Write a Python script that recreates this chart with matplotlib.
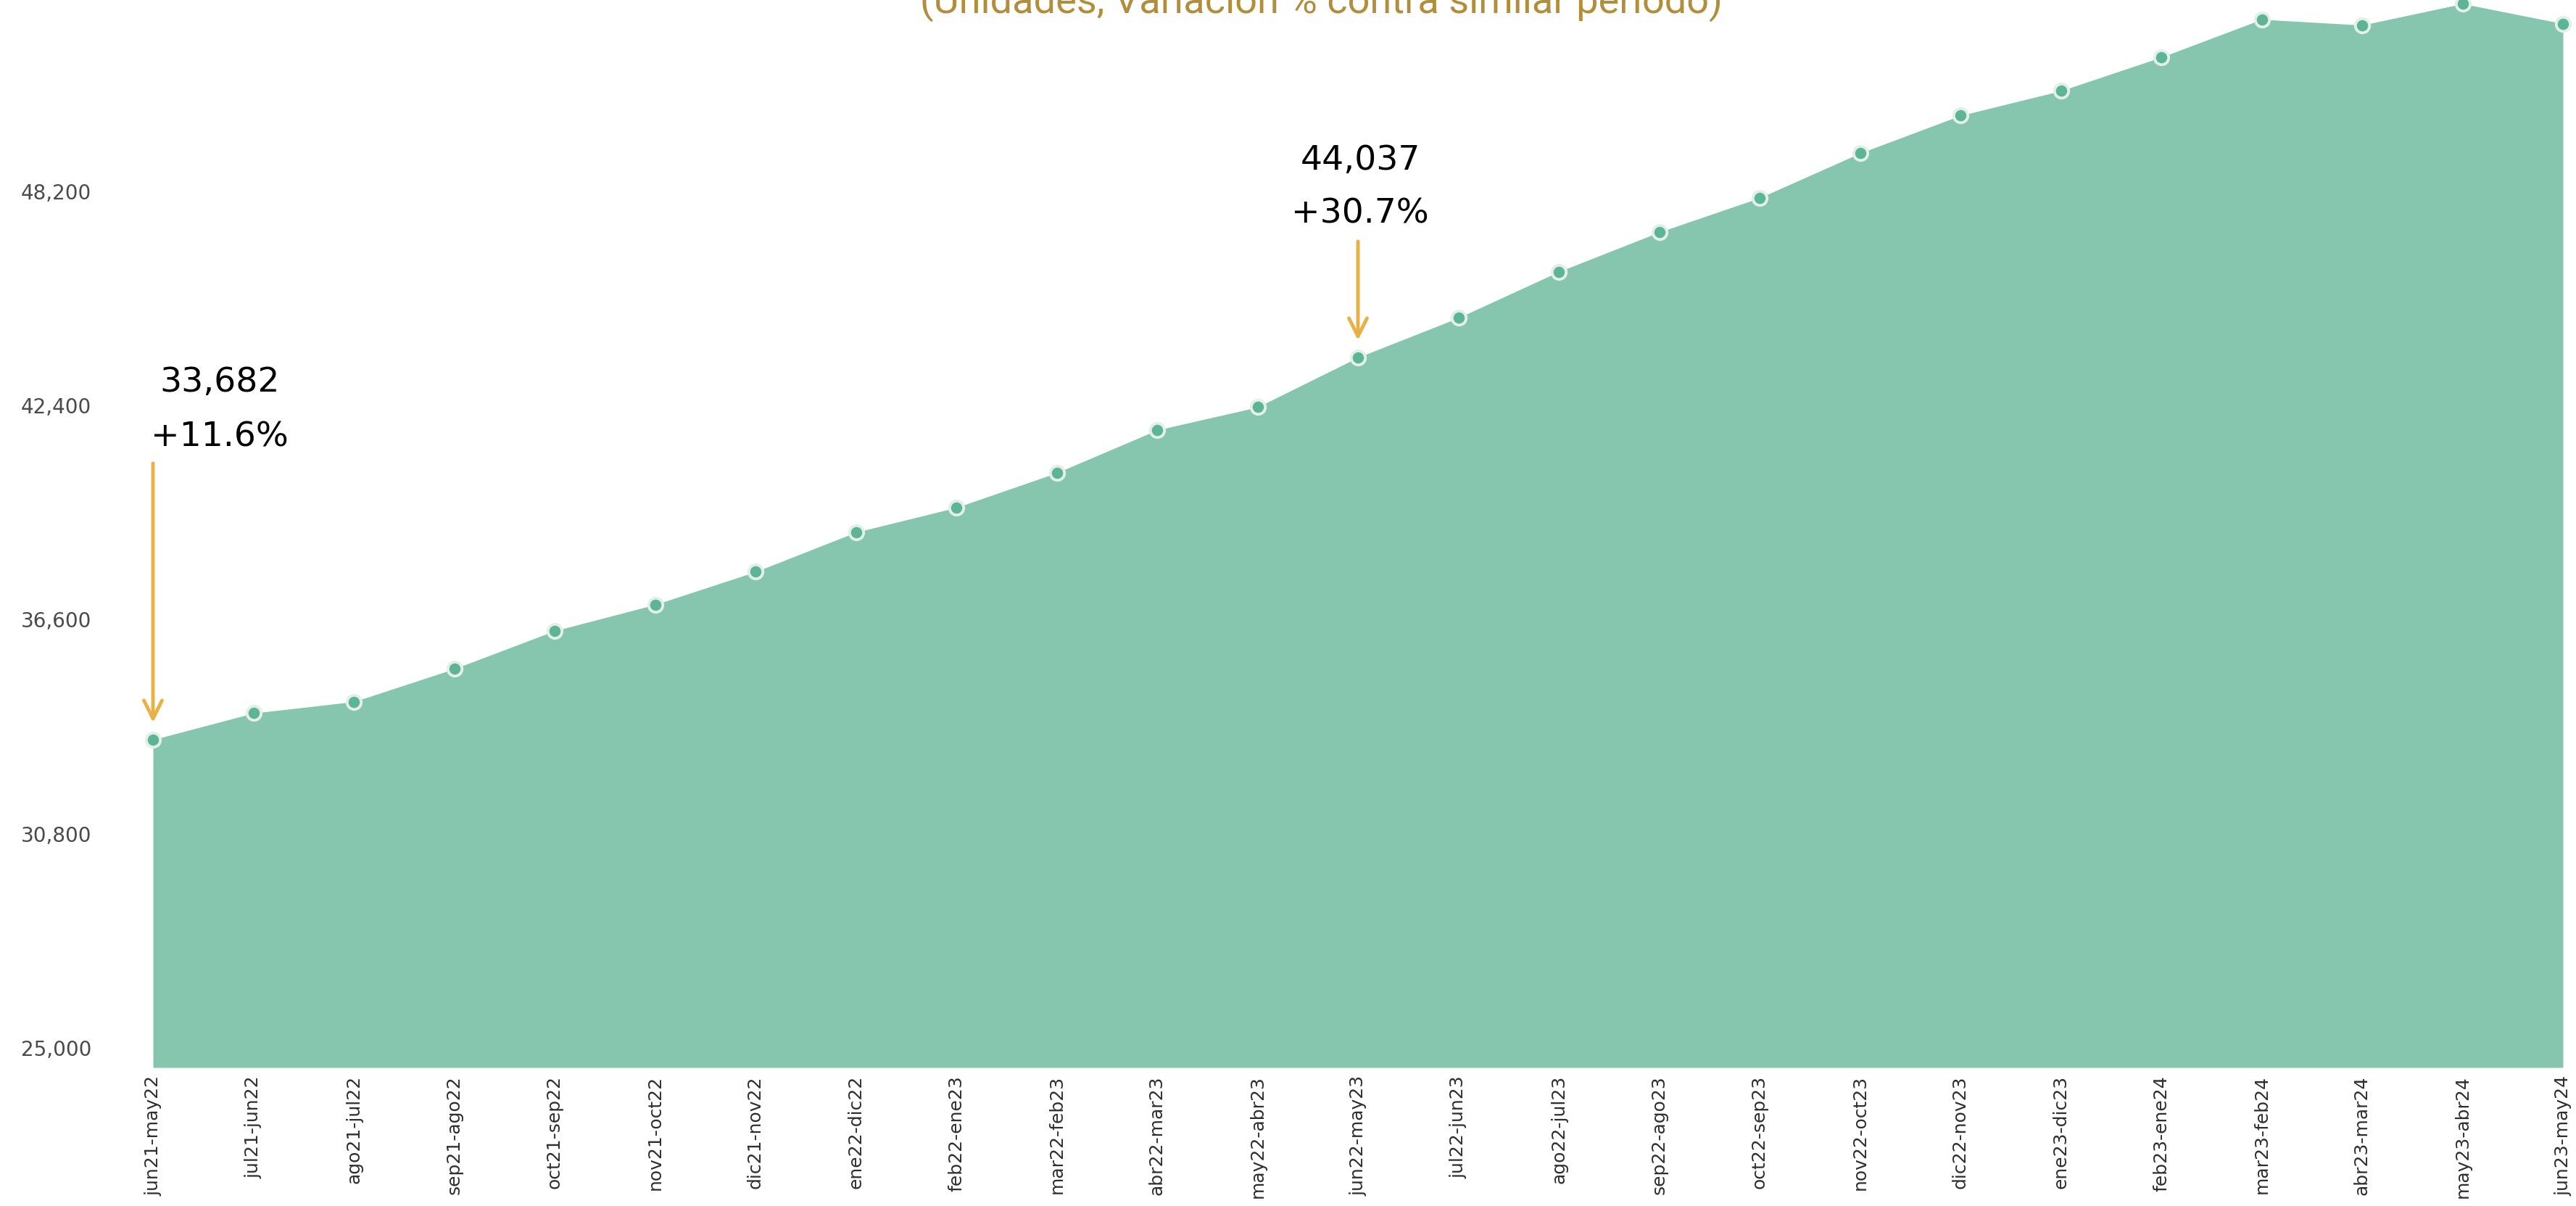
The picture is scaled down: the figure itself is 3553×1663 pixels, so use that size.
import matplotlib.pyplot as plt

# Ventas acumuladas 12 meses (unidades)
periodos = ['jun21-may22', 'jul21-jun22', 'ago21-jul22', 'sep21-ago22', 'oct21-sep22',
            'nov21-oct22', 'dic21-nov22', 'ene22-dic22', 'feb22-ene23', 'mar22-feb23',
            'abr22-mar23', 'may22-abr23', 'jun22-may23', 'jul22-jun23', 'ago22-jul23',
            'sep22-ago23', 'oct22-sep23', 'nov22-oct23', 'dic22-nov23', 'ene23-dic23',
            'feb23-ene24', 'mar23-feb24', 'abr23-mar24', 'may23-abr24', 'jun23-may24']
unidades = [33682, 34400, 34710, 35600, 36630, 37340, 38230, 39300, 39970, 40910,
            42070, 42690, 44037, 45110, 46360, 47430, 48360, 49570, 50590, 51260,
            52170, 53195, 53040, 53620, 53080]
yticks = [25000, 30800, 36600, 42400, 48200]
notas = {0: ('33,682', '+11.6%'), 12: ('44,037', '+30.7%')}

verde = '#86C5AE'
punto = '#5DB596'
naranja = '#E9B044'

fig = plt.figure(figsize=(35.53, 16.63), dpi=100)
ax = fig.add_axes([211 / 3553, 1 - 1472 / 1663, (3535 - 211) / 3553, 1472 / 1663])

x = list(range(len(periodos)))
ax.fill_between(x, unidades, 24800, color=verde, lw=0)
ax.plot(x, unidades, ls='none', marker='o', ms=14, mfc=punto, mec='#E3F0EA',
        mew=2.8, clip_on=False, zorder=3)

ax.set_xlim(0, len(periodos) - 1)
ax.set_ylim(24800, 53720)
ax.set_xticks(x)
ax.set_xticklabels(periodos, rotation=90, fontsize=18, color='#2e2e2e')
ax.set_yticks(yticks)
ax.set_yticklabels([f'{v:,}' for v in yticks], fontsize=20, color='#4a4a4a', va='bottom')
ax.tick_params(axis='both', length=0)
ax.tick_params(axis='y', pad=61)
ax.tick_params(axis='x', pad=8)
for s in ax.spines.values():
    s.set_visible(False)

# Anotaciones con flecha
offsets = {0: (92, 492, 417, 381), 12: (3, 271, 198, 160)}
for i, (num, pct) in notas.items():
    dx, y1, y2, tail = offsets[i]
    ax.annotate(num, xy=(i, unidades[i]), xytext=(dx, y1), textcoords='offset pixels',
                ha='center', va='center', fontsize=34, color='black')
    ax.annotate(pct, xy=(i, unidades[i]), xytext=(dx, y2), textcoords='offset pixels',
                ha='center', va='center', fontsize=34, color='black')
    ax.annotate('', xy=(i, unidades[i]), xytext=(0, tail), textcoords='offset pixels',
                arrowprops=dict(arrowstyle='->', color=naranja, lw=3.5,
                                shrinkA=0, shrinkB=17, mutation_scale=45))

fig.text(0.513, 1 - 18 / 1663, '(Unidades, Variación % contra similar período)',
         ha='center', va='baseline', fontsize=39, color='#B38E3A',
         family=['Roboto', 'DejaVu Sans'])

fig.savefig('out.png', dpi=100)
